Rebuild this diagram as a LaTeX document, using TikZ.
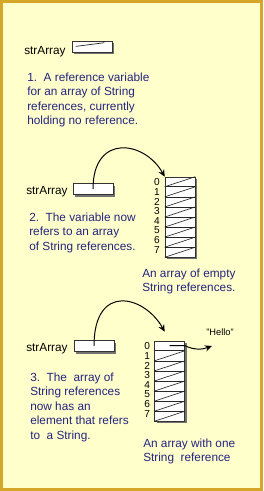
\documentclass[tikz,border=0pt]{standalone}
\usepackage{fontspec}
\setmainfont{Liberation Sans}
\usepackage{xcolor}
\usepackage{tikz}
\usetikzlibrary{arrows.meta, positioning, calc, shadows}
\definecolor{paper}{RGB}{255,255,204}
\definecolor{framegold}{RGB}{214,166,40}
\definecolor{navytext}{RGB}{36,36,128}

\begin{document}
\begin{tikzpicture}[font={\fontsize{8.4}{10.3}\selectfont},
		varbox/.style={draw=black!80, fill=white, minimum width=1.0cm, minimum height=0.27cm, inner sep=0pt,
			drop shadow={shadow xshift=0.06cm, shadow yshift=-0.06cm, fill=black!55, opacity=1}},
		arraybox/.style={draw=black!80, fill=white, minimum width=0.75cm, minimum height=2cm, inner sep=0pt,
			drop shadow={shadow xshift=0.06cm, shadow yshift=-0.06cm, fill=black!55, opacity=1}},
		varname/.style={anchor=west, inner sep=0pt},
		note/.style={anchor=north west, align=left, inner sep=0pt, text=navytext},
		idx/.style={anchor=east, inner sep=0pt, font={\fontsize{7.2}{7.2}\selectfont}},
		refline/.style={line width=0.7pt, -{Stealth[length=5pt, width=4.5pt]}},
		cellline/.style={black!85, line width=0.45pt}]
	% frame and paper
	\useasboundingbox (0,0) rectangle (6.575,-12.275);
	\fill[framegold] (0,0) rectangle (6.575,-12.275);
	\fill[paper] (0.065,-0.065) rectangle (6.51,-12.21);
	% ---------- Step 1: variable holding no reference ----------
	\node[varname] (lbl1) at (0.6,-1.3) {strArray};
	\node[varbox] (var1) at (2.3,-1.16) {};
	\draw[black!85, line width=0.5pt] ($(var1.west)+(0.1,0)$) -- ($(var1.north east)+(-0.2,-0.05)$);
	\node[note] (txt1) at (0.675,-1.81)
	{1.\ \ A reference variable\\for an array of String\\references, currently\\holding no reference.};
	% ---------- Step 2: variable refers to an empty array ----------
	\node[varname] (lbl2) at (0.65,-4.8) {strArray};
	\node[varbox] (var2) at (2.325,-4.725) {};
	\node[arraybox] (arr2) at (4.5,-5.425) {};
	\foreach \i in {1,...,7}
	{
		\draw[cellline] ($(arr2.north west)!\i/8!(arr2.south west)$) -- ($(arr2.north east)!\i/8!(arr2.south east)$);
	}
	\foreach \i [evaluate=\i as \j using \i+1] in {0,...,7}
	{
		\draw[cellline] ($(arr2.north west)!\j/8!(arr2.south west)$) -- ($(arr2.north east)!\i/8!(arr2.south east)$);
		\node[idx] (i2-\i) at ($(arr2.north west)+(-0.12,-0.14-0.24*\i)$) {\i};
	}
	\draw[refline] (var2.center) .. controls +(0,1.4) and +(-0.5,0.9) .. (arr2.north west);
	\node[note] (txt2) at (0.725,-5.31)
	{2.\ \ The variable now\\refers to an array\\of String references.};
	\node[note] (cap2) at (3.55,-6.71)
	{An array of empty\\String references.};
	% ---------- Step 3: element 0 refers to a String ----------
	\node[varname] (lbl3) at (0.65,-8.725) {strArray};
	\node[varbox] (var3) at (2.35,-8.65) {};
	\node[arraybox] (arr3) at (4.24,-9.525) {};
	\foreach \i in {1,...,7}
	{
		\draw[cellline] ($(arr3.north west)!\i/8!(arr3.south west)$) -- ($(arr3.north east)!\i/8!(arr3.south east)$);
	}
	\foreach \i [evaluate=\i as \j using \i+1] in {1,...,7}
	{
		\draw[cellline] ($(arr3.north west)!\j/8!(arr3.south west)$) -- ($(arr3.north east)!\i/8!(arr3.south east)$);
	}
	\foreach \i in {0,...,7}
	{
		\node[idx] (i3-\i) at ($(arr3.north west)+(-0.1,-0.14-0.24*\i)$) {\i};
	}
	\coordinate (in3) at ($(arr3.north west)+(0.26,0.225)$);
	\draw[refline] (var3.center) .. controls +(0,1.6) and +(-0.5,0.9) .. (in3);
	\node[inner sep=0pt, font={\fontsize{6.6}{7}\selectfont}] (hello) at (5.5,-8.3) {"Hello"};
	\coordinate (ref3) at ($(arr3.north)+(0,-0.125)$);
	\coordinate (tip3) at (5.3,-8.65);
	\draw[refline] (ref3) -- (ref3 -| arr3.east) to[out=-25, in=200] (tip3);
	\node[note] (txt3) at (0.75,-9.31)
	{3.\ \ The\ \ array of\\String references\\now has an\\element that refers\\to\ \ a String.};
	\node[note] (cap3) at (3.575,-10.96)
	{An array with one\\String\ \ reference};
\end{tikzpicture}
\end{document}
